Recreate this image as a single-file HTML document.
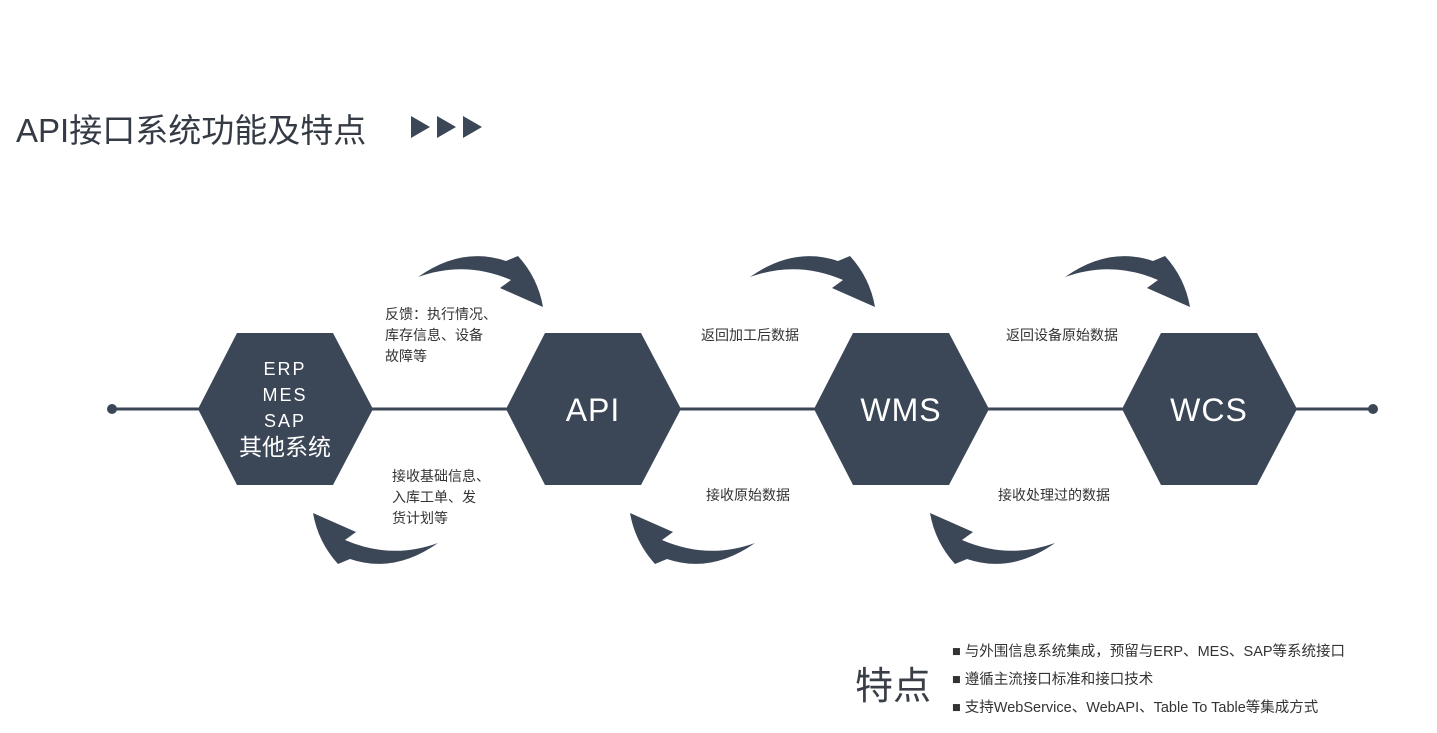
<!DOCTYPE html>
<html><head><meta charset="utf-8"><style>
body{margin:0;width:1437px;height:733px;background:#fff;overflow:hidden;position:relative;font-family:"Liberation Sans","Noto Sans CJK SC",sans-serif;color:#3a3f47}
.t{position:absolute;font-size:14px;line-height:21px;color:#333}
</style></head><body>
<svg width="1437" height="733" style="position:absolute;left:0;top:0">
<defs>
<g id="arr"><path d="M418 277 Q462 246 506 261 L518 256 Q538 278 543 307 L500 288 L511 280 Q465 260 418 277 Z" fill="#3b4656"/></g>
</defs>
<line x1="112" y1="409" x2="1373" y2="409" stroke="#3b4656" stroke-width="3"/>
<circle cx="112" cy="409" r="5" fill="#3b4656"/><circle cx="1373" cy="409" r="5" fill="#3b4656"/>
<g fill="#3b4656">
<polygon points="198,409 237,333 333,333 373,409 333,485 237,485"/>
<polygon points="506,409 545,333 641,333 681,409 641,485 545,485"/>
<polygon points="814,409 853,333 949,333 989,409 949,485 853,485"/>
<polygon points="1122,409 1161,333 1257,333 1297,409 1257,485 1161,485"/>
</g>
<use href="#arr"/>
<use href="#arr" transform="translate(332,0)"/>
<use href="#arr" transform="translate(647,0)"/>
<g transform="rotate(180 428 410)"><use href="#arr"/></g>
<g transform="translate(317,0) rotate(180 428 410)"><use href="#arr"/></g>
<g transform="translate(617,0) rotate(180 428 410)"><use href="#arr"/></g>
<g fill="#3b4656"><polygon points="411,116 411,138 430,127"/><polygon points="437,116 437,138 456,127"/><polygon points="463,116 463,138 482,127"/></g>
<g fill="#fff" text-anchor="middle" font-family="Liberation Sans,Noto Sans CJK SC,sans-serif">
<text x="285" y="375" font-size="18" letter-spacing="2">ERP</text>
<text x="285" y="401" font-size="18" letter-spacing="2">MES</text>
<text x="285" y="427" font-size="18" letter-spacing="2">SAP</text>
<text x="285" y="455" font-size="23">其他系统</text>
<text x="593" y="421" font-size="32" letter-spacing="1">API</text>
<text x="901" y="421" font-size="32" letter-spacing="1">WMS</text>
<text x="1209" y="421" font-size="32" letter-spacing="1">WCS</text>
</g>
</svg>
<div style="position:absolute;left:16px;top:104px;font-size:33px;color:#353b45">API接口系统功能及特点</div>
<div class="t" style="left:385px;top:304px;width:130px">反馈：执行情况、<br>库存信息、设备<br>故障等</div>
<div class="t" style="left:392px;top:466px">接收基础信息、<br>入库工单、发<br>货计划等</div>
<div class="t" style="left:701px;top:325px">返回加工后数据</div>
<div class="t" style="left:706px;top:485px">接收原始数据</div>
<div class="t" style="left:1006px;top:325px">返回设备原始数据</div>
<div class="t" style="left:998px;top:485px">接收处理过的数据</div>
<div style="position:absolute;left:855px;top:655px;font-size:38px;color:#3a3f47">特点</div>
<div class="t" style="left:952px;top:638px;line-height:28px;font-size:14.5px">■ 与外围信息系统集成，预留与ERP、MES、SAP等系统接口<br>■ 遵循主流接口标准和接口技术<br>■ 支持WebService、WebAPI、Table To Table等集成方式</div>
</body></html>
